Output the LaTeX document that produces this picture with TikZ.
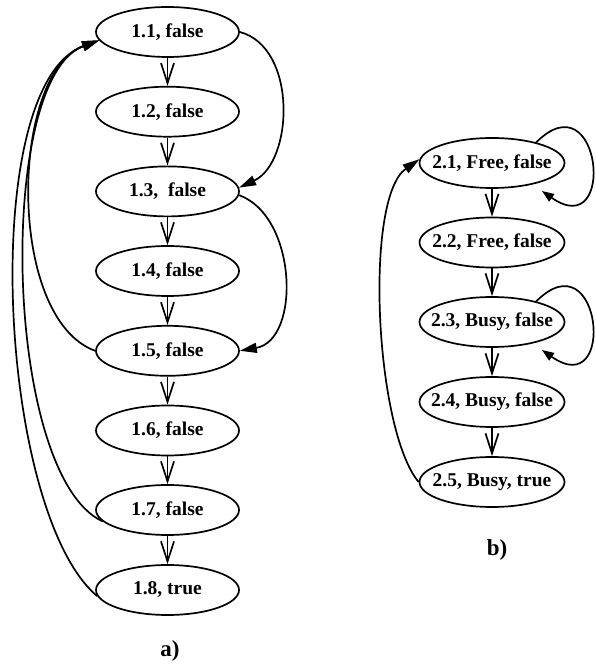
\documentclass[tikz,border=0pt]{standalone}
\usepackage{fontspec}
\setmainfont{Liberation Serif}
\usetikzlibrary{shapes.geometric,arrows.meta}

\begin{document}
\begin{tikzpicture}[x=1pt,y=1pt,line width=1.7pt,
  st/.style={draw,ellipse,minimum width=143pt,minimum height=50pt,inner xsep=-10pt,
    font=\fontsize{19.5}{22}\selectfont\bfseries},
  nx/.style={-{Straight Barb[length=20pt,width=13pt]}},
  bk/.style={-{Triangle[length=17pt,width=10pt]}},
  lp/.style={-{Triangle[length=12pt,width=9pt]}},
  sublabel/.style={font=\fontsize{23}{26}\selectfont\bfseries}]
\useasboundingbox (0,0) rectangle (596,667);

 \node[st] (n11) at (167.5,635) {1.1, false};
 \node[st] (n12) at (167.5,555.3) {1.2, false};
 \node[st] (n13) at (167.5,475.6) {1.3,\ \ false};
 \node[st] (n14) at (167.5,396) {1.4, false};
 \node[st] (n15) at (167.5,316.2) {1.5, false};
 \node[st] (n16) at (167.5,236.5) {1.6, false};
 \node[st] (n17) at (167.5,157) {1.7, false};
 \node[st] (n18) at (167.5,77) {1.8, true};
 \node[sublabel] (la) at (170,16) {a)};

 \draw[nx] (n11) -- (n12);
 \draw[nx] (n12) -- (n13);
 \draw[nx] (n13) -- (n14);
 \draw[nx] (n14) -- (n15);
 \draw[nx] (n15) -- (n16);
 \draw[nx] (n16) -- (n17);
 \draw[nx] (n17) -- (n18);

 \draw[bk] (n11.east) to[out=-15,in=25,distance=60pt] (n13.3);
 \draw[bk] (n13.-3) to[out=-20,in=10,distance=62pt] (n15.east);
 \draw[bk] (n15.west) to[out=160,in=200,distance=95pt] (n11.187);
 \draw[bk] (n17.190) to[out=155,in=200,distance=110pt] (n11.187);
 \draw[bk] (n18.185) to[out=140,in=200,distance=130pt] (n11.187);

 \node[st,minimum width=145pt] (n21) at (492,504) {2.1, Free, false};
 \node[st,minimum width=145pt] (n22) at (492,424.5) {2.2, Free, false};
 \node[st,minimum width=145pt] (n23) at (492,345) {2.3, Busy, false};
 \node[st,minimum width=145pt] (n24) at (492,265) {2.4, Busy, false};
 \node[st,minimum width=145pt] (n25) at (492,185) {2.5, Busy, true};
 \node[sublabel] (lb) at (497,117) {b)};

 \draw[nx] (n21) -- (n22);
 \draw[nx] (n22) -- (n23);
 \draw[nx] (n23) -- (n24);
 \draw[nx] (n24) -- (n25);

 \draw[lp] (n21.25) to[out=45,in=-35,distance=92pt] ([shift={(50pt,-28pt)}]n21.center);
 \draw[lp] (n23.25) to[out=45,in=-35,distance=92pt] ([shift={(50pt,-28pt)}]n23.center);
 \draw[bk] (n25.west) to[out=130,in=215,distance=68pt] (n21.177);
\end{tikzpicture}
\end{document}
